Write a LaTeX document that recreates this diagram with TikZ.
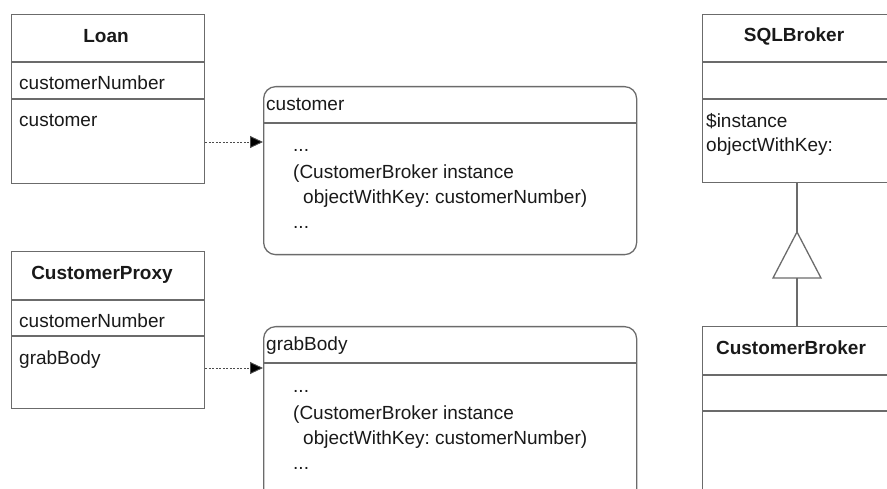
\documentclass[tikz,border=0pt]{standalone}
\usepackage{fontspec}
\setmainfont{Liberation Sans}
\frenchspacing
\usetikzlibrary{arrows.meta,calc}
\begin{document}
\begin{tikzpicture}[x=1pt,y=-1pt,
  line/.style={draw=black!58,line width=1.3pt},
  classbox/.style={line,rectangle,inner sep=0pt,anchor=north west},
  notebox/.style={line,rectangle,rounded corners=12pt,inner sep=0pt,anchor=north west},
  txt/.style={inner sep=0pt,anchor=base west,font=\fontsize{19}{23}\selectfont,text=black!90},
  ttl/.style={inner sep=0pt,anchor=base,font=\fontsize{19}{23}\selectfont\bfseries,text=black!90},
  dep/.style={draw=black!70,line width=0.9pt,dash pattern=on 2pt off 1.5pt,
    -{Triangle[length=13pt,width=12pt,fill=black]}},
  inh/.style={line}]
\useasboundingbox (0,0) rectangle (887,489);
\clip (0,0) rectangle (887,489);

% Loan
\node[classbox,minimum width=193pt,minimum height=169pt] (loan) at (11,14) {};
\draw[line] (loan.west |- 0,62) -- (loan.east |- 0,62);
\draw[line] (loan.west |- 0,99) -- (loan.east |- 0,99);
\node[ttl] (loanT) at (106,43) {Loan};
\node[txt] (loanA) at (19,90) {customerNumber};
\node[txt] (loanO) at (19,127) {customer};

% CustomerProxy
\node[classbox,minimum width=193pt,minimum height=157pt] (proxy) at (11,251) {};
\draw[line] (proxy.west |- 0,300) -- (proxy.east |- 0,300);
\draw[line] (proxy.west |- 0,336) -- (proxy.east |- 0,336);
\node[ttl] (proxyT) at (102,280) {CustomerProxy};
\node[txt] (proxyA) at (19,328) {customerNumber};
\node[txt] (proxyO) at (19,364) {grabBody};

% customer note
\node[notebox,minimum width=373pt,minimum height=168pt] (custnote) at (263,86) {};
\draw[line] (custnote.west |- 0,123) -- (custnote.east |- 0,123);
\node[txt] (custH) at (266,111) {customer};
\node[txt] (custL1) at (293,152) {...};
\node[txt] (custL2) at (293,179) {(CustomerBroker instance};
\node[txt] (custL3) at (303,204) {objectWithKey: customerNumber)};
\node[txt] (custL4) at (293,229) {...};

% grabBody note
\node[notebox,minimum width=373pt,minimum height=200pt] (grabnote) at (263,326) {};
\draw[line] (grabnote.west |- 0,363) -- (grabnote.east |- 0,363);
\node[txt] (grabH) at (266,351) {grabBody};
\node[txt] (grabL1) at (293,392) {...};
\node[txt] (grabL2) at (293,419) {(CustomerBroker instance};
\node[txt] (grabL3) at (303,444) {objectWithKey: customerNumber)};
\node[txt] (grabL4) at (293,469) {...};

% SQLBroker
\node[classbox,minimum width=194pt,minimum height=168pt] (sql) at (702,14) {};
\draw[line] (sql.west |- 0,62) -- (sql.east |- 0,62);
\draw[line] (sql.west |- 0,99) -- (sql.east |- 0,99);
\node[ttl] (sqlT) at (794,42) {SQLBroker};
\node[txt] (sqlO1) at (706,128) {\$instance};
\node[txt] (sqlO2) at (706,152) {objectWithKey:};

% CustomerBroker
\node[classbox,minimum width=194pt,minimum height=200pt] (cb) at (702,326) {};
\draw[line] (cb.west |- 0,375) -- (cb.east |- 0,375);
\draw[line] (cb.west |- 0,411) -- (cb.east |- 0,411);
\node[ttl] (cbT) at (791,355) {CustomerBroker};

% dependency arrows
\coordinate (d1s) at (loan.east |- 0,142);
\coordinate (d1e) at (custnote.west |- 0,142);
\draw[dep] (d1s) -- (d1e);
\coordinate (d2s) at (proxy.east |- 0,368);
\coordinate (d2e) at (grabnote.west |- 0,368);
\draw[dep] (d2s) -- (d2e);

% inheritance
\coordinate (apex) at (797,232);
\coordinate (base) at (797,278);
\coordinate (sqlb) at (sql.south -| apex);
\coordinate (cbt) at (cb.north -| apex);
\draw[inh] (sqlb) -- (apex);
\draw[inh] (base) -- (cbt);
\draw[inh,line join=miter] (apex) -- (821,278) -- (773,278) -- cycle;
\end{tikzpicture}
\end{document}
